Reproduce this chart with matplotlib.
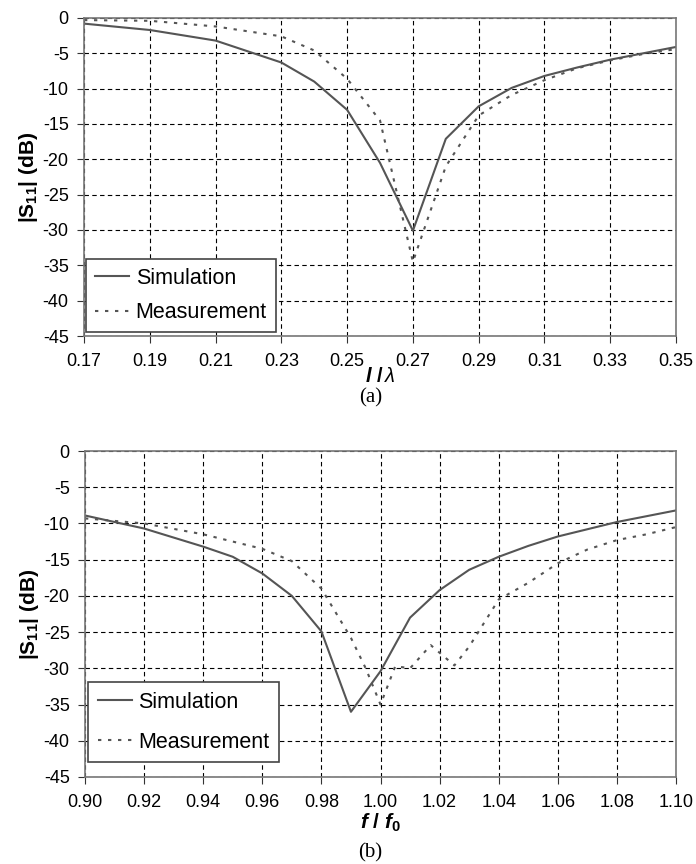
import matplotlib
matplotlib.use("Agg")
import matplotlib.pyplot as plt
import numpy as np

plt.rcParams['font.family'] = ['Liberation Sans', 'DejaVu Sans']
plt.rcParams['axes.unicode_minus'] = False
plt.rcParams['mathtext.fontset'] = 'custom'
plt.rcParams['mathtext.rm'] = 'Liberation Sans'
plt.rcParams['mathtext.it'] = 'Liberation Sans:italic'
plt.rcParams['mathtext.bf'] = 'Liberation Sans:bold'
plt.rcParams['mathtext.bfit'] = 'Liberation Sans:bold:italic'

# (a) S11 vs l/lambda
a_x_sim = [0.17, 0.19, 0.21, 0.23, 0.24, 0.25, 0.26, 0.27, 0.28, 0.29, 0.30, 0.31, 0.32, 0.33, 0.34, 0.35]
a_y_sim = [-0.8, -1.7, -3.2, -6.3, -9.0, -13.0, -20.5, -30.1, -17.1, -12.5, -9.9, -8.2, -7.0, -5.9, -5.0, -4.1]
a_x_meas = [0.17, 0.19, 0.21, 0.23, 0.24, 0.25, 0.26, 0.27, 0.28, 0.29, 0.30, 0.31, 0.32, 0.33, 0.34, 0.35]
a_y_meas = [-0.3, -0.4, -1.2, -2.6, -4.6, -8.6, -14.5, -34.5, -21.0, -13.8, -10.9, -8.8, -7.1, -6.0, -5.1, -4.4]
a_xticks = [0.17, 0.19, 0.21, 0.23, 0.25, 0.27, 0.29, 0.31, 0.33, 0.35]

# (b) S11 vs f/f0
b_x_sim = [0.90, 0.92, 0.94, 0.95, 0.96, 0.97, 0.98, 0.99, 1.00, 1.01, 1.02, 1.03, 1.04, 1.05, 1.06, 1.07, 1.08, 1.09, 1.10]
b_y_sim = [-8.9, -10.7, -13.2, -14.6, -16.9, -20.0, -24.9, -36.0, -30.4, -23.0, -19.2, -16.4, -14.6, -13.1, -11.8, -10.8, -9.8, -9.0, -8.2]
b_x_meas = [0.90, 0.92, 0.94, 0.96, 0.97, 0.98, 0.99, 0.995, 1.00, 1.005, 1.01, 1.017, 1.025, 1.03, 1.04, 1.05, 1.06, 1.07, 1.08, 1.09, 1.10]
b_y_meas = [-9.3, -10.0, -11.5, -13.5, -15.2, -19.0, -25.8, -30.0, -35.0, -29.7, -30.0, -26.8, -29.6, -27.0, -20.5, -18.2, -15.5, -13.6, -12.3, -11.5, -10.5]
b_xticks = [0.90, 0.92, 0.94, 0.96, 0.98, 1.00, 1.02, 1.04, 1.06, 1.08, 1.10]
b_xticklabels = ['0.90', '0.92', '0.94', '0.96', '0.98', '1.00', '1.02', '1.04', '1.06', '1.08', '1.10']

yticks = [0, -5, -10, -15, -20, -25, -30, -35, -40, -45]

line_col = '#555555'
meas_dash = (0, (1.6, 3.2))

fig = plt.figure(figsize=(6.96, 8.64), dpi=100)
ax1 = fig.add_axes([0.1207, 0.6111, 0.8506, 0.3681])
ax2 = fig.add_axes([0.1221, 0.1007, 0.8492, 0.3773])


def style_axes(ax, xlim, xticks):
    ax.set_xlim(*xlim)
    ax.set_ylim(-45, 0)
    ax.set_xticks(xticks)
    ax.set_yticks(yticks)
    ax.grid(True, color='black', linestyle=(0, (4, 3)), linewidth=0.8)
    ax.set_axisbelow(True)
    for s in ax.spines.values():
        s.set_color('#777777')
        s.set_linewidth(1.2)
    ax.tick_params(direction='out', length=5, color='#333333', labelsize=13,
                   pad=6)
    ax.tick_params(axis='x', pad=7)
    ax.set_ylabel(r'$\mathbf{|S_{11}|\ (dB)}$', fontsize=15, labelpad=2)


ax1.plot(a_x_sim, a_y_sim, color=line_col, lw=1.5, label='Simulation')
ax1.plot(a_x_meas, a_y_meas, color=line_col, lw=1.5, linestyle=meas_dash,
         label='Measurement')
style_axes(ax1, (0.17, 0.35), a_xticks)
ax1.set_xticklabels(['%.2f' % v for v in a_xticks])
ax1.set_xlabel(r'$\mathbfit{l}\ \mathbf{/}\,\lambda$', fontsize=14.5, labelpad=-2)
leg1 = ax1.legend(loc='lower left', bbox_to_anchor=(0.003, 0.012), borderaxespad=0,
                  fancybox=False, framealpha=1, edgecolor='#444444', fontsize=15.5,
                  handlelength=1.6, labelspacing=0.62, borderpad=0.42,
                  handletextpad=0.3)
leg1.get_frame().set_linewidth(1.2)
fig.text(0.532, 1 - 398 / 864, '(a)', ha='center', va='center',
         family='Liberation Serif', fontsize=15)

ax2.plot(b_x_sim, b_y_sim, color=line_col, lw=1.5, label='Simulation')
ax2.plot(b_x_meas, b_y_meas, color=line_col, lw=1.5, linestyle=meas_dash,
         label='Measurement')
style_axes(ax2, (0.90, 1.10), b_xticks)
ax2.set_xticklabels(b_xticklabels)
ax2.set_xlabel(r'$\mathbfit{f}\ \mathbf{/}\ \mathbfit{f}_{\mathbf{0}}$', fontsize=15, labelpad=1)
leg2 = ax2.legend(loc='lower left', bbox_to_anchor=(0.005, 0.045), borderaxespad=0,
                  fancybox=False, framealpha=1, edgecolor='#444444', fontsize=15.5,
                  handlelength=1.6, labelspacing=0.88, borderpad=0.45,
                  handletextpad=0.3)
leg2.get_frame().set_linewidth(1.2)
fig.text(0.532, 1 - 853 / 864, '(b)', ha='center', va='center',
         family='Liberation Serif', fontsize=15)

fig.savefig('out.png', dpi=100)
